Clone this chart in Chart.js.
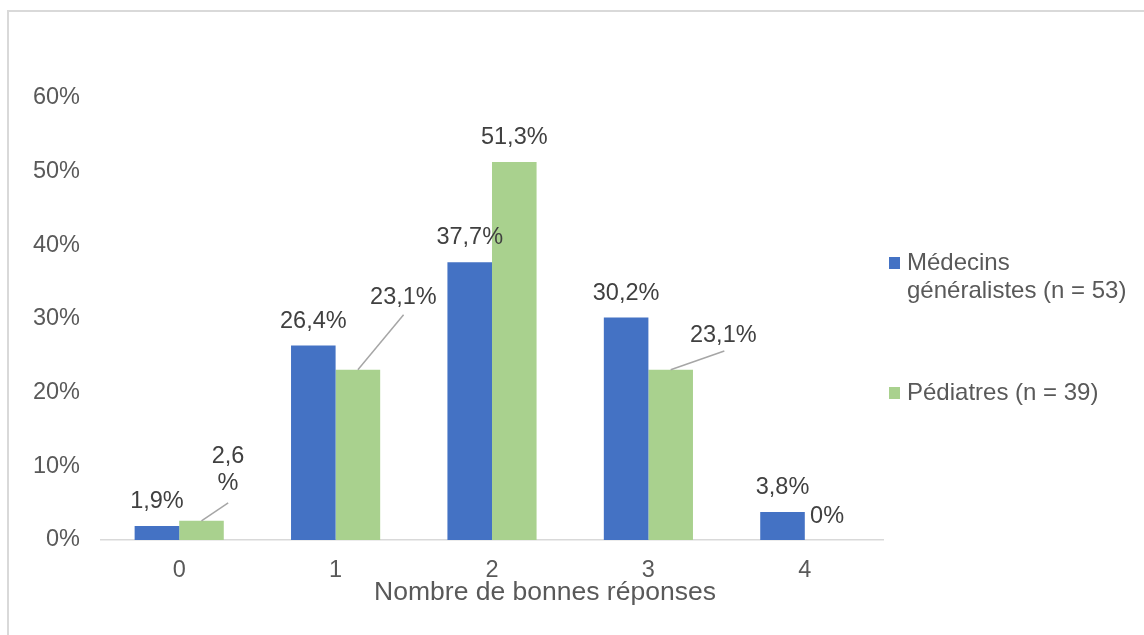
<!DOCTYPE html>
<html>
<head>
<meta charset="utf-8">
<script src="https://cdn.jsdelivr.net/npm/chart.js@4"></script>
<style>
  body { margin: 0; background: #fff; }
  #wrap { position: relative; width: 1144px; height: 635px; overflow: hidden; }
  #frame { position: absolute; left: 7px; top: 10px; width: 1200px; height: 700px;
           border-top: 2px solid #d9d9d9; border-left: 2px solid #d9d9d9; pointer-events: none; }
  canvas { position: absolute; left: 0; top: 0; }
</style>
</head>
<body>
<div id="wrap">
  <canvas id="chart" width="1144" height="635"></canvas>
  <div id="frame"></div>
</div>
<script>
const categories = ['0', '1', '2', '3', '4'];
const generalistes = [1.9, 26.4, 37.7, 30.2, 3.8];
const pediatres = [2.6, 23.1, 51.3, 23.1, 0];
const seriesNames = ['Médecins généralistes (n = 53)', 'Pédiatres (n = 39)'];
const yTicks = [0, 10, 20, 30, 40, 50, 60];
const axisTitle = 'Nombre de bonnes réponses';

const FONT = "'Liberation Sans', Arial, sans-serif";

// where each value label sits, relative to the top centre of its bar
const placements = [
  [{dx: 0, dy: -24.5}, {dx: 0, dy: -24.5}, {dx: 0, dy: -24.5}, {dx: 0, dy: -24.5}, {dx: 0, dy: -24.5}],
  [
    {dx: 26.5, dy: -51, wrap: true, leader: [26.7, -18]},
    {dx: 45.5, dy: -72.5, leader: [45.7, -55]},
    {dx: 0, dy: -25},
    {dx: 52.6, dy: -34.5, leader: [53.6, -18.8]},
    {dx: 0, dy: -23.5}
  ]
];

function fmt(v) {
  return v === 0 ? '0%' : v.toFixed(1).replace('.', ',') + '%';
}

const valueLabels = {
  id: 'valueLabels',
  afterDatasetsDraw(chart, args, opts) {
    const ctx = chart.ctx;
    ctx.save();
    ctx.font = `${opts.size}px ${FONT}`;
    ctx.textAlign = 'center';
    ctx.textBaseline = 'middle';
    chart.data.datasets.forEach((ds, i) => {
      chart.getDatasetMeta(i).data.forEach((bar, j) => {
        const p = opts.placements[i][j];
        const txt = fmt(ds.data[j]);
        if (p.leader) {
          ctx.strokeStyle = '#a6a6a6';
          ctx.lineWidth = 1.5;
          ctx.beginPath();
          ctx.moveTo(bar.x, bar.y);
          ctx.lineTo(bar.x + p.leader[0], bar.y + p.leader[1]);
          ctx.stroke();
        }
        const lines = p.wrap ? [txt.slice(0, -1), '%'] : [txt];
        const lh = 26.5;
        const y0 = bar.y + p.dy - (lines.length - 1) * lh / 2;
        ctx.fillStyle = '#404040';
        lines.forEach((ln, k) => ctx.fillText(ln, bar.x + p.dx, y0 + k * lh));
      });
    });
    ctx.restore();
  }
};

function wrapText(ctx, text, maxW) {
  const words = text.split(' ');
  const out = [];
  let cur = '';
  words.forEach(w => {
    const test = cur ? cur + ' ' + w : w;
    if (cur && ctx.measureText(test).width > maxW) { out.push(cur); cur = w; }
    else cur = test;
  });
  if (cur) out.push(cur);
  return out;
}

const sideLegend = {
  id: 'sideLegend',
  afterDraw(chart, args, opts) {
    const ctx = chart.ctx;
    ctx.save();
    ctx.font = `${opts.size}px ${FONT}`;
    ctx.textAlign = 'left';
    ctx.textBaseline = 'middle';
    let y = opts.top;
    chart.data.datasets.forEach(ds => {
      const lines = wrapText(ctx, ds.label, opts.maxWidth);
      ctx.fillStyle = ds.backgroundColor;
      ctx.fillRect(opts.x, y - 6, 11, 12);
      ctx.fillStyle = '#595959';
      lines.forEach((ln, k) => ctx.fillText(ln, opts.x + 18, y + k * opts.lineHeight));
      y += lines.length * opts.lineHeight + opts.gap;
    });
    ctx.restore();
  }
};

// the x axis title is centred on the whole chart, not on the plot area
const xTitle = {
  id: 'xTitle',
  afterDraw(chart, args, opts) {
    const ctx = chart.ctx;
    ctx.save();
    ctx.font = `${opts.size}px ${FONT}`;
    ctx.textAlign = 'center';
    ctx.textBaseline = 'middle';
    ctx.fillStyle = '#595959';
    ctx.fillText(opts.text, opts.x, chart.chartArea.bottom + opts.offset);
    ctx.restore();
  }
};

new Chart(document.getElementById('chart').getContext('2d'), {
  type: 'bar',
  data: {
    labels: categories,
    datasets: [
      { label: seriesNames[0], data: generalistes, backgroundColor: '#4472c4' },
      { label: seriesNames[1], data: pediatres, backgroundColor: '#a9d18e' }
    ]
  },
  options: {
    responsive: false,
    animation: false,
    layout: { padding: { top: 98, right: 261, bottom: 0, left: 0 } },
    datasets: { bar: { categoryPercentage: 0.57, barPercentage: 1.0 } },
    plugins: {
      legend: { display: false },
      tooltip: { enabled: false },
      valueLabels: { size: 23.5, placements: placements },
      sideLegend: { x: 889, top: 263, size: 24, lineHeight: 28, gap: 74, maxWidth: 228 },
      xTitle: { text: axisTitle, x: 545, offset: 53, size: 26.5 }
    },
    scales: {
      x: {
        grid: { display: false },
        border: { display: true, color: '#d9d9d9', width: 1.5 },
        ticks: { color: '#595959', font: { family: FONT, size: 23.5 }, padding: 8 },
        afterFit(s) { s.height = 95; }
      },
      y: {
        min: 0, max: 60,
        grid: { display: false },
        border: { display: false },
        afterBuildTicks(s) { s.ticks = yTicks.map(v => ({ value: v })); },
        ticks: {
          color: '#595959', font: { family: FONT, size: 23.5 }, padding: 13,
          callback: v => v + '%'
        },
        afterFit(s) { s.width = 101; }
      }
    }
  },
  plugins: [valueLabels, sideLegend, xTitle]
});
</script>
</body>
</html>
